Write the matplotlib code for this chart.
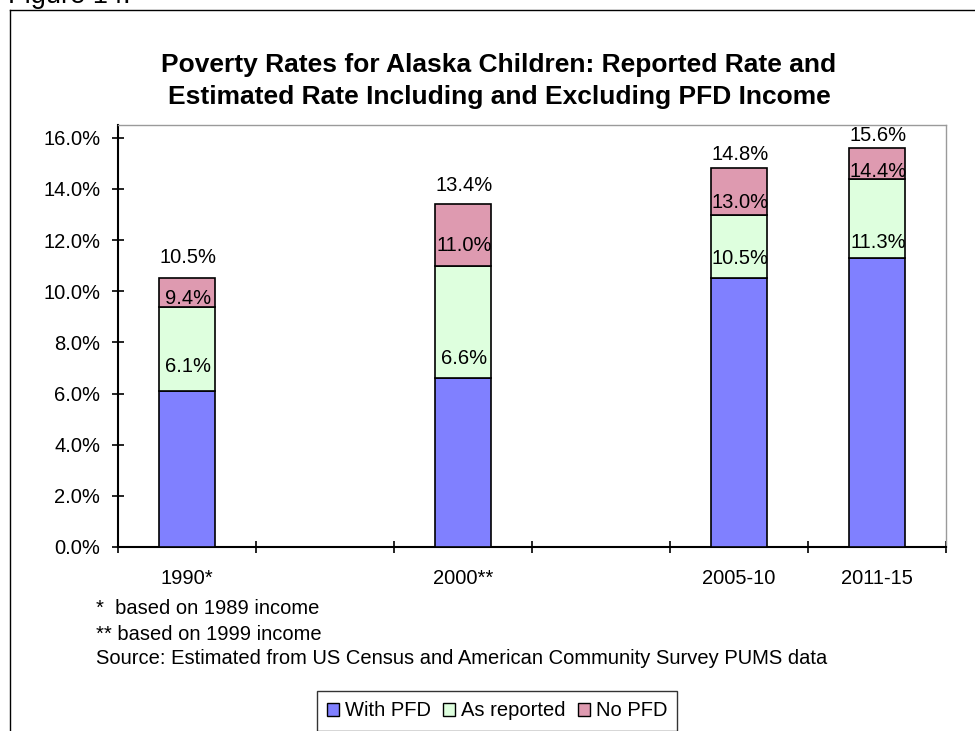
import matplotlib
matplotlib.use("Agg")
import matplotlib.pyplot as plt
from matplotlib.lines import Line2D
from matplotlib.patches import Patch
from matplotlib.ticker import FixedLocator, PercentFormatter

plt.rcParams['font.family'] = ['Liberation Sans', 'DejaVu Sans']

# Category axis (blank slots keep the time spacing between periods)
axis_categories = ["1990*", "", "2000**", "", "2005-10", "2011-15"]
periods = ["1990*", "2000**", "2005-10", "2011-15"]

# Poverty rates (%) — cumulative levels per period
with_pfd = [6.1, 6.6, 10.5, 11.3]
as_reported = [9.4, 11.0, 13.0, 14.4]
no_pfd = [10.5, 13.4, 14.8, 15.6]

series_names = ["With PFD", "As reported", "No PFD"]
series_colors = ["#8080FF", "#DEFFDE", "#DE9AB0"]

# vertical lift of each value label above its level (percentage points)
label_lift = [
    [0.95, 0.78, 0.79, 0.60],
    [0.30, 0.78, 0.47, 0.28],
    [0.83, 0.72, 0.54, 0.48],
]

TXT = 14.5
W, H = 975, 731
fig = plt.figure(figsize=(W / 100, H / 100), dpi=100)

# axes placed in pixel terms
ax_left, ax_right, ax_top, ax_bottom = 118, 946, 125, 547
ax = fig.add_axes([ax_left / W, 1 - ax_bottom / H,
                   (ax_right - ax_left) / W, (ax_bottom - ax_top) / H])

xpos = [axis_categories.index(p) for p in periods]
levels = [with_pfd, as_reported, no_pfd]
bar_w = 0.4

bottom = [0.0] * len(periods)
for name, color, lvl in zip(series_names, series_colors, levels):
    heights = [top - b for top, b in zip(lvl, bottom)]
    ax.bar(xpos, heights, bar_w, bottom=bottom, color=color,
           edgecolor="black", linewidth=1.2, label=name, zorder=3)
    bottom = list(lvl)

for lvl, lifts in zip(levels, label_lift):
    for x, v, d in zip(xpos, lvl, lifts):
        ax.text(x + 0.01, v + d, f"{v:.1f}%", ha="center", va="center",
                fontsize=TXT, color="black", zorder=5)

ax.set_xlim(-0.5, len(axis_categories) - 0.5)
ax.set_ylim(0, 16.5)
ax.set_yticks([0, 2, 4, 6, 8, 10, 12, 14, 16])
ax.yaxis.set_major_formatter(PercentFormatter(decimals=1))

ax.set_xticks(range(len(axis_categories)))
ax.set_xticklabels(axis_categories)
ax.xaxis.set_minor_locator(FixedLocator([i - 0.5 for i in range(len(axis_categories) + 1)]))

ax.tick_params(axis="x", which="major", length=0, pad=16, labelsize=TXT)
ax.tick_params(axis="x", which="minor", direction="inout", length=8.5, width=1.2)
ax.tick_params(axis="y", which="major", direction="inout", length=8.5, width=1.2,
               pad=8.5, labelsize=TXT)

for s in ("left", "bottom"):
    ax.spines[s].set_color("black")
    ax.spines[s].set_linewidth(1.5)
for s in ("top", "right"):
    ax.spines[s].set_color("#9A9A9A")
    ax.spines[s].set_linewidth(1.0)

# title
fig.text(499 / W, 1 - 81 / H,
         "Poverty Rates for Alaska Children: Reported Rate and\n"
         "Estimated Rate Including and Excluding PFD Income",
         ha="center", va="center", fontsize=19, fontweight="bold",
         linespacing=1.45)

# figure caption above the chart frame
fig.text(8 / W, 1 - 3 / H, "Figure 14.", ha="left", va="baseline", fontsize=19.5)

# chart frame
fig.add_artist(Line2D([10 / W, 10 / W], [0, 1 - 10 / H], color="black", lw=1.0,
                      transform=fig.transFigure))
fig.add_artist(Line2D([10 / W, 1], [1 - 10 / H, 1 - 10 / H], color="black", lw=1.0,
                      transform=fig.transFigure))

# footnotes
notes = ["*  based on 1989 income",
         "** based on 1999 income",
         "Source: Estimated from US Census and American Community Survey PUMS data"]
for i, t in enumerate(notes):
    fig.text(96 / W, 1 - (609 + 25 * i) / H, t, ha="left", va="center", fontsize=TXT)

handles = [Patch(facecolor=c, edgecolor="black", linewidth=1.0, label=n)
           for n, c in zip(series_names, series_colors)]
leg = fig.legend(handles=handles, loc="center", bbox_to_anchor=(497 / W, 1 - 711 / H),
                 ncol=3, fontsize=TXT, frameon=True, fancybox=False,
                 handlelength=0.6, handleheight=0.6, handletextpad=0.3,
                 columnspacing=0.6, borderpad=0.5, borderaxespad=0)
leg.get_frame().set_edgecolor("black")
leg.get_frame().set_linewidth(1.0)

fig.savefig("out.png", dpi=100)
